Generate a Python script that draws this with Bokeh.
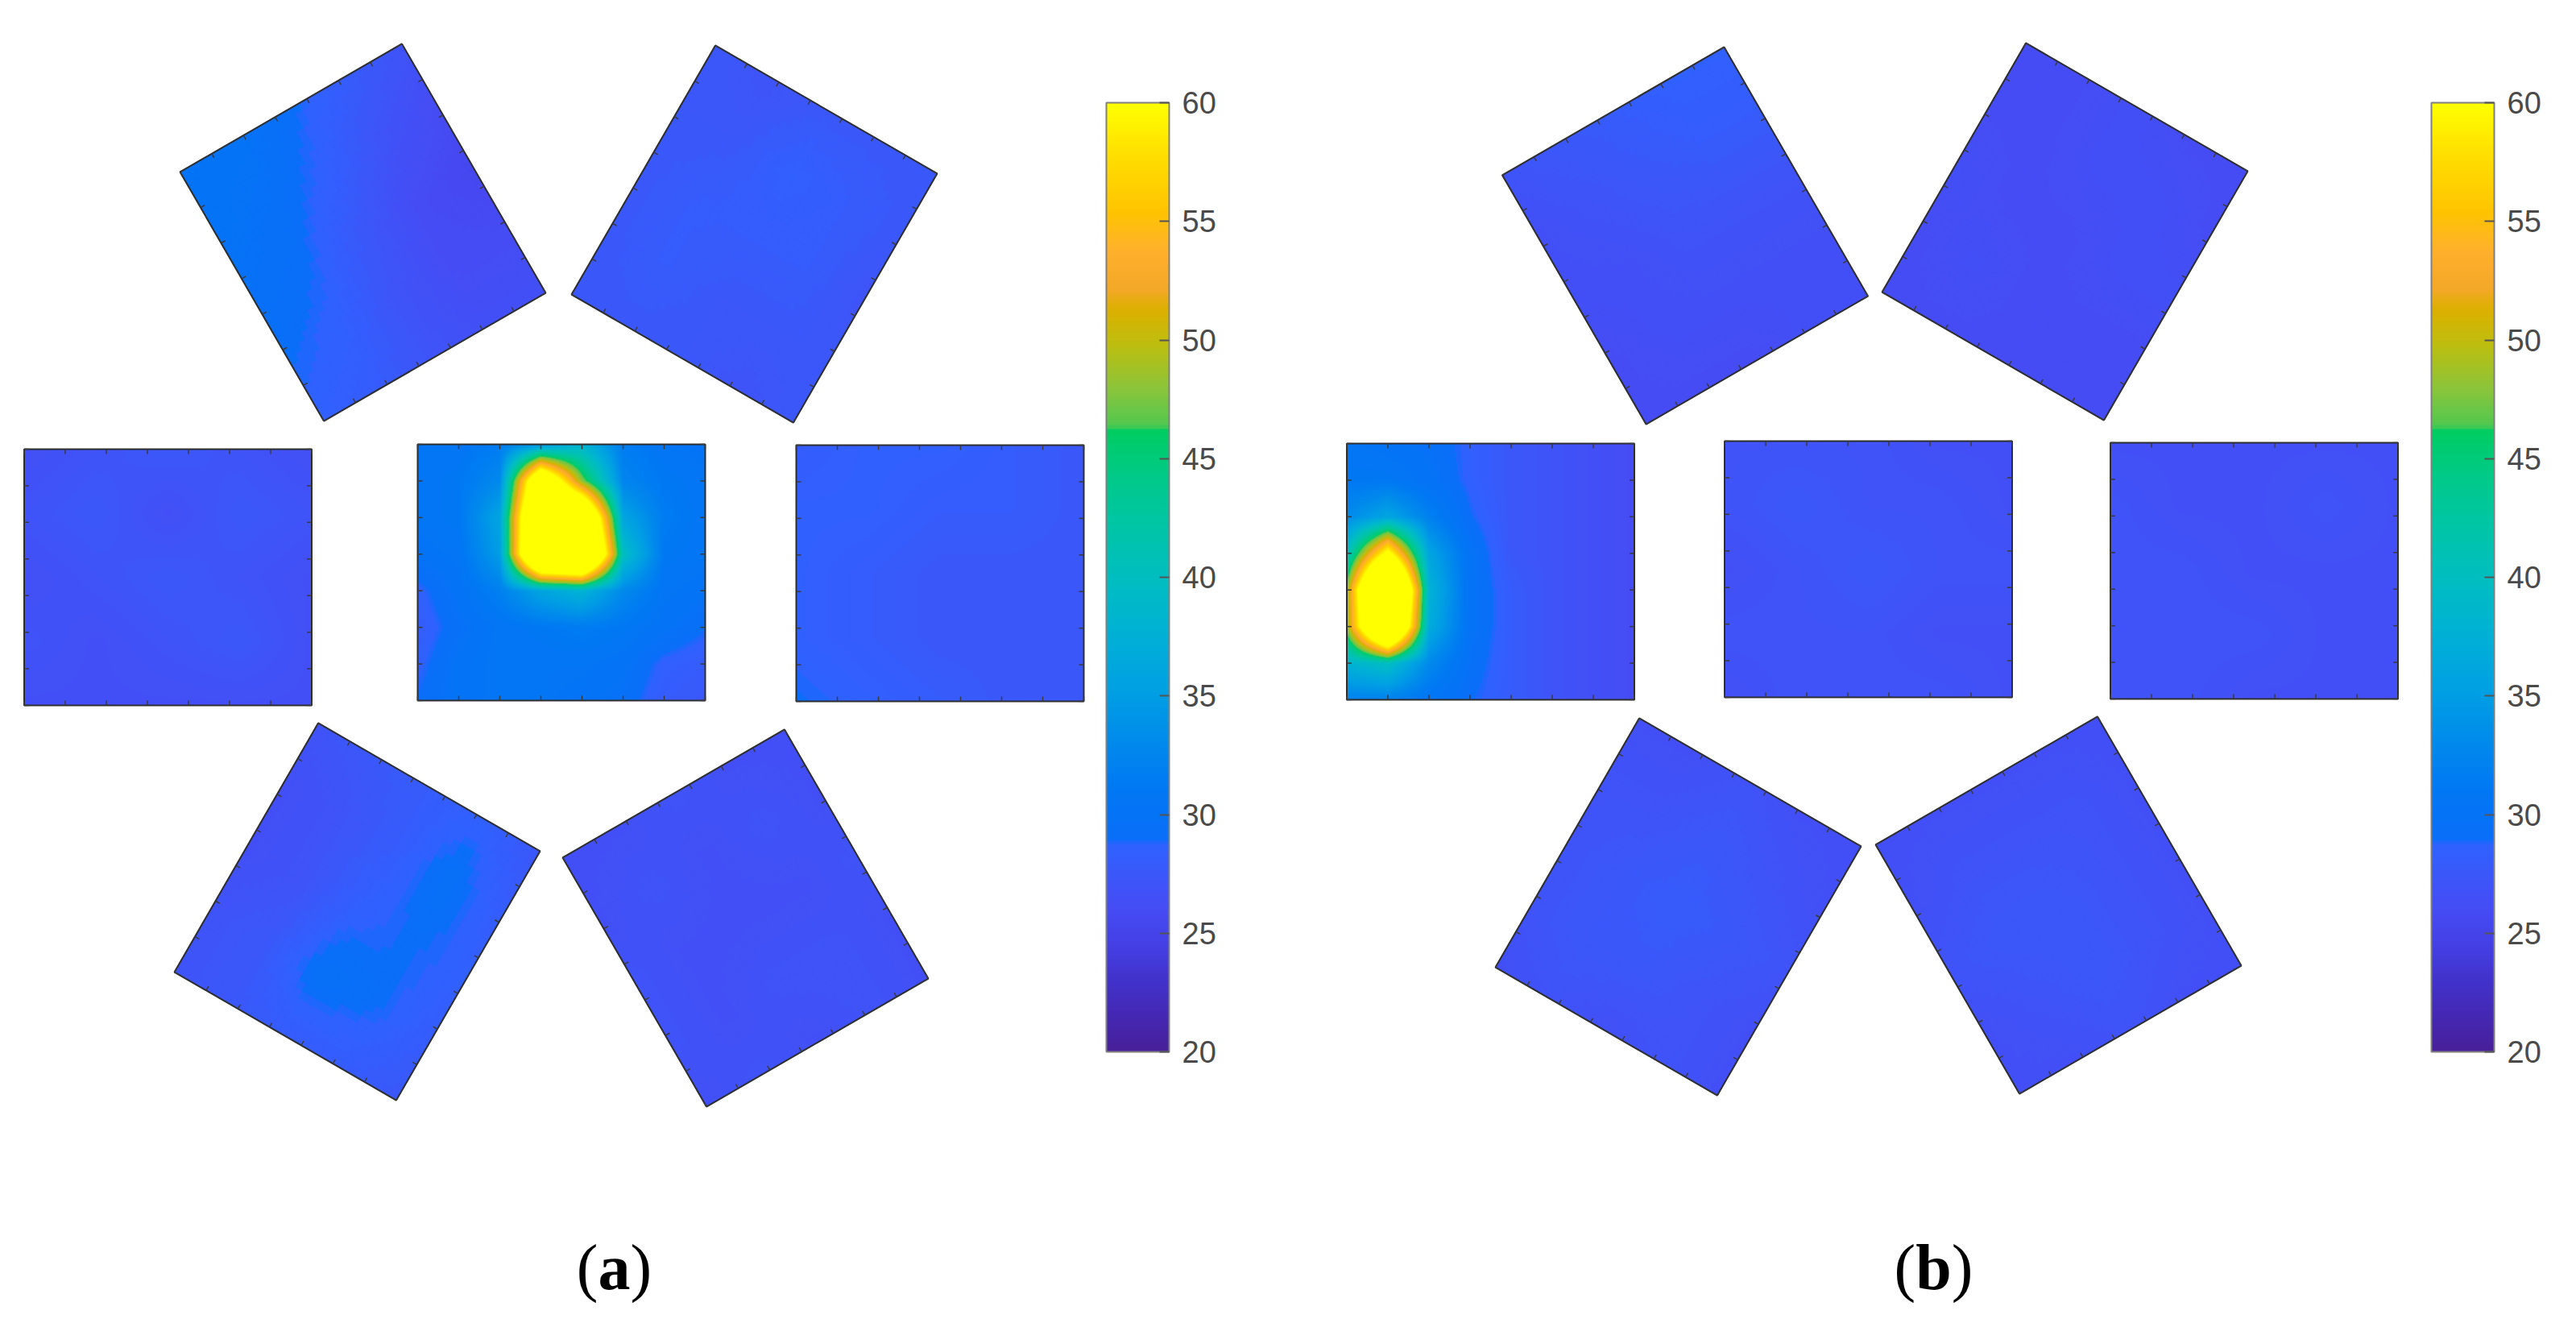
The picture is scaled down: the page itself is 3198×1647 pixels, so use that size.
import numpy as np
from bokeh.plotting import figure
from bokeh.models import Range1d, LinearColorMapper, ColorBar, FixedTicker, ColumnDataSource
from bokeh.core.properties import value
from bokeh.embed import file_html
from bokeh.resources import INLINE

# ---------------- data ----------------
T_LOW, T_HIGH = 20, 60
CB_TICKS = [20, 25, 30, 35, 40, 45, 50, 55, 60]
PANEL_LABELS = ["a", "b"]

# 8x8 sensor grids (rows top -> bottom, columns left -> right), degC
A_CENTER = [
    [30.5, 30.5, 31.5, 34.0, 38.0, 31.5, 30.5, 30.0],
    [30.5, 31.0, 33.0, 72.0, 48.0, 32.5, 31.0, 30.5],
    [30.5, 31.0, 36.0, 82.0, 78.0, 36.0, 31.5, 30.5],
    [30.0, 30.5, 35.0, 85.0, 88.0, 40.0, 31.0, 30.5],
    [28.5, 30.0, 32.0, 36.0, 38.0, 33.0, 30.5, 30.0],
    [28.0, 29.5, 30.5, 31.0, 31.5, 31.0, 30.0, 29.0],
    [28.5, 30.0, 30.5, 30.5, 30.5, 30.0, 28.5, 28.0],
    [29.0, 30.0, 30.5, 30.5, 30.0, 29.5, 28.0, 27.5],
]
B_LEFT = [
    [30.5, 30.0, 29.5, 28.5, 27.5, 27.0, 26.5, 26.0],
    [31.0, 31.0, 30.0, 28.5, 27.5, 27.0, 26.5, 26.0],
    [33.0, 36.0, 32.0, 29.0, 27.5, 27.0, 26.5, 26.0],
    [40.0, 62.0, 36.0, 30.0, 27.5, 27.0, 26.5, 26.0],
    [48.0, 92.0, 38.0, 30.0, 28.0, 27.0, 26.5, 26.0],
    [48.0, 85.0, 37.0, 30.0, 28.0, 27.0, 26.5, 26.0],
    [38.0, 40.0, 33.0, 29.5, 28.0, 27.0, 26.5, 26.0],
    [32.0, 32.0, 30.5, 29.0, 28.0, 27.0, 26.5, 26.0],
]
# coarser readings of the cool panels (local frame of each panel)
A_LEFT = [[26.5, 27.0, 27.5, 27.0, 26.5], [27.0, 27.5, 26.5, 27.5, 27.0], [26.5, 27.0, 27.5, 27.0, 26.5],
          [27.0, 26.5, 27.0, 27.5, 26.5], [26.5, 26.5, 26.5, 26.5, 26.5]]
A_RIGHT = [[28.0, 28.5, 28.5, 28.0, 27.5], [28.5, 28.5, 28.0, 28.0, 27.5], [28.5, 28.0, 27.5, 27.5, 27.5],
           [28.5, 28.0, 27.5, 27.5, 27.5], [29.0, 28.5, 28.0, 27.5, 27.5]]
A_TOPLEFT = [[27.0, 26.0, 25.5, 26.0, 26.5], [28.0, 27.0, 26.0, 26.0, 26.5], [29.0, 28.5, 27.5, 27.0, 27.0],
             [30.0, 29.5, 29.0, 28.5, 28.0], [30.0, 30.0, 29.5, 29.0, 28.5]]
A_TOPRIGHT = [[27.5, 27.5, 27.0, 27.5, 27.5], [27.5, 28.0, 28.0, 27.5, 27.0], [27.5, 28.5, 28.0, 27.5, 27.5],
              [27.0, 27.5, 28.0, 28.0, 27.5], [27.5, 27.5, 27.5, 27.5, 27.5]]
A_BOTLEFT = [[27.0, 27.0, 26.5, 26.5, 27.0], [27.5, 27.5, 27.0, 27.0, 27.5], [28.0, 29.5, 28.5, 28.0, 28.0],
             [28.0, 29.0, 29.0, 29.5, 28.5], [27.5, 28.0, 28.5, 28.0, 27.5]]
A_BOTRIGHT = [[26.5, 27.0, 27.0, 26.5, 26.5], [27.0, 26.5, 26.5, 27.0, 26.5], [26.5, 27.0, 26.5, 26.5, 27.0],
              [27.0, 27.0, 26.5, 27.0, 26.5], [26.5, 26.5, 27.0, 26.5, 26.5]]
B_CENTER = [[27.0, 27.0, 27.0, 26.5, 26.5], [27.0, 27.5, 27.0, 27.0, 26.5], [26.5, 27.0, 27.5, 27.0, 27.0],
            [27.0, 27.0, 27.0, 26.5, 26.5], [26.5, 27.0, 27.0, 27.0, 26.5]]
B_RIGHT = [[26.5, 26.5, 26.5, 26.5, 26.5], [27.0, 26.5, 26.5, 27.0, 26.5], [27.0, 27.0, 26.5, 26.5, 26.5],
           [27.0, 27.0, 27.0, 26.5, 26.5], [27.0, 27.0, 26.5, 26.5, 26.5]]
B_TOPLEFT = [[28.5, 28.0, 27.0, 26.5, 26.5], [28.5, 28.0, 27.0, 26.5, 26.5], [28.0, 27.5, 27.0, 26.5, 26.0],
             [27.5, 27.0, 26.5, 26.5, 26.0], [27.0, 26.5, 26.5, 26.0, 26.0]]
B_TOPRIGHT = [[26.0, 26.0, 26.5, 26.0, 26.0], [26.0, 26.5, 26.5, 26.0, 26.0], [26.5, 26.5, 26.0, 26.0, 26.0],
              [26.0, 26.0, 26.0, 26.5, 26.0], [26.0, 26.0, 26.5, 26.0, 26.0]]
B_BOTLEFT = [[26.5, 27.0, 27.0, 27.0, 26.5], [27.0, 27.5, 27.5, 27.0, 26.5], [26.5, 27.5, 28.0, 27.5, 27.0],
             [27.0, 27.0, 27.5, 27.0, 26.5], [26.5, 26.5, 27.0, 26.5, 26.5]]
B_BOTRIGHT = [[26.5, 26.5, 27.0, 26.5, 26.5], [26.5, 27.0, 27.5, 27.0, 26.5], [27.0, 27.5, 27.5, 27.0, 26.5],
              [26.5, 27.0, 27.0, 27.0, 26.5], [26.5, 26.5, 26.5, 26.5, 26.5]]

# ---------------- colour map (parula-like, as printed) ----------------
ANCHORS = [
    (20.0, "#47209a"), (21.5, "#4428b4"), (23.0, "#4232cc"), (24.5, "#4440e6"),
    (26.0, "#464cf4"), (27.5, "#3a58fa"), (28.7, "#2e62ff"), (28.9, "#0a6ef8"),
    (31.0, "#0078f4"), (33.0, "#008aec"), (35.0, "#009ee4"), (37.5, "#00b0d6"),
    (40.0, "#00bec0"), (42.5, "#00c6a2"), (44.5, "#00ca84"), (46.2, "#00cc62"),
    (46.4, "#50c850"), (48.0, "#8cc43a"), (49.8, "#bcbe10"), (51.3, "#dcb000"),
    (52.2, "#f4a828"), (53.8, "#ffb02c"), (55.5, "#ffc400"), (58.0, "#ffe000"),
    (60.0, "#ffff00"),
]


def build_palette(n=256):
    av = [a[0] for a in ANCHORS]
    rgb = [tuple(int(a[1][k:k + 2], 16) for k in (1, 3, 5)) for a in ANCHORS]
    vs = np.linspace(T_LOW, T_HIGH, n)
    ch = [np.interp(vs, av, [c[i] for c in rgb]) for i in range(3)]
    return ["#%02x%02x%02x" % (int(round(r)), int(round(g)), int(round(b))) for r, g, b in zip(*ch)]


PAL = build_palette()
mapper = LinearColorMapper(palette=PAL, low=T_LOW, high=T_HIGH, high_color=PAL[-1], low_color=PAL[0])

# ---------------- layout (picture pixel coordinates, y down) ----------------
CAN_W, CAN_H = 3182, 1631
PW, PH = 357, 318  # panel size
PANELS = [
    # grid, centre x, centre y, rotation (deg, clockwise on screen)
    (A_CENTER, 696.5, 710, 0), (A_LEFT, 208, 716, 0), (A_RIGHT, 1166.5, 711, 0),
    (A_TOPLEFT, 450, 288, 60), (A_TOPRIGHT, 936, 290, 120),
    (A_BOTLEFT, 443, 1131, 300), (A_BOTRIGHT, 925, 1139, 240),
    (B_LEFT, 1850, 709, 0), (B_CENTER, 2319, 706, 0), (B_RIGHT, 2798, 708, 0),
    (B_TOPLEFT, 2091.5, 292, 60), (B_TOPRIGHT, 2563, 287, 120),
    (B_BOTLEFT, 2083, 1125, 300), (B_BOTRIGHT, 2555, 1123, 240),
]
LABEL_POS = [(762, 1572), (2400, 1572)]
CBAR_LEFT = [1373, 3018]
CBAR_TOP, CBAR_BOTTOM, CBAR_W = 127, 1305, 78


def dy(y):
    return CAN_H - y


def field(grid, s, t):
    g = np.asarray(grid, float)
    ny, nx = g.shape
    x = np.clip(s * (nx - 1), 0, nx - 1 - 1e-9)
    y = np.clip(t * (ny - 1), 0, ny - 1 - 1e-9)
    i0 = np.floor(x).astype(int)
    j0 = np.floor(y).astype(int)
    fx, fy = x - i0, y - j0
    return (g[j0, i0] * (1 - fx) * (1 - fy) + g[j0, i0 + 1] * fx * (1 - fy)
            + g[j0 + 1, i0] * (1 - fx) * fy + g[j0 + 1, i0 + 1] * fx * fy)


def to_page(cx, cy, th, u, v):
    c, s = np.cos(np.radians(th)), np.sin(np.radians(th))
    return cx + u * c - v * s, cy + u * s + v * c


p = figure(width=CAN_W, height=CAN_H, x_range=Range1d(0, CAN_W), y_range=Range1d(0, CAN_H),
           output_backend="svg", toolbar_location=None, x_axis_location=None, y_axis_location=None,
           min_border=0, outline_line_color=None, background_fill_color="white", border_fill_color="white")
p.xgrid.visible = False
p.ygrid.visible = False

px_, py_, pt_ = [], [], []
outl_x, outl_y = [], []
tk = dict(x0=[], y0=[], x1=[], y1=[])
NU, NV = 36, 32
for grid, cx, cy, th in PANELS:
    if th == 0:
        s = (np.arange(PW) + 0.5) / PW
        t = (np.arange(PH) + 0.5) / PH
        S, T = np.meshgrid(s, t)
        arr = field(grid, S, T)
        p.image(image=[np.flipud(arr)], x=cx - PW / 2, y=dy(cy + PH / 2), dw=PW, dh=PH, color_mapper=mapper)
    else:
        ue = np.linspace(-PW / 2, PW / 2, NU + 1)
        ve = np.linspace(-PH / 2, PH / 2, NV + 1)
        for j in range(NV):
            for i in range(NU):
                cu = [ue[i], ue[i + 1], ue[i + 1], ue[i]]
                cv = [ve[j], ve[j], ve[j + 1], ve[j + 1]]
                xs, ys = to_page(cx, cy, th, np.array(cu), np.array(cv))
                px_.append(list(xs))
                py_.append(list(dy(ys)))
                pt_.append(float(field(grid, np.array((i + 0.5) / NU), np.array((j + 0.5) / NV))))
    cu = np.array([-PW / 2, PW / 2, PW / 2, -PW / 2])
    cv = np.array([-PH / 2, -PH / 2, PH / 2, PH / 2])
    xs, ys = to_page(cx, cy, th, cu, cv)
    outl_x.append(list(xs))
    outl_y.append(list(dy(ys)))
    L = 6
    for k in range(8):
        uu = -PW / 2 + k * PW / 7
        vv = -PH / 2 + k * PH / 7
        for (u0, v0, u1, v1) in [(uu, -PH / 2, uu, -PH / 2 + L), (uu, PH / 2, uu, PH / 2 - L),
                                 (-PW / 2, vv, -PW / 2 + L, vv), (PW / 2, vv, PW / 2 - L, vv)]:
            a0, b0 = to_page(cx, cy, th, u0, v0)
            a1, b1 = to_page(cx, cy, th, u1, v1)
            tk["x0"].append(a0); tk["y0"].append(dy(b0)); tk["x1"].append(a1); tk["y1"].append(dy(b1))

src = ColumnDataSource(dict(xs=px_, ys=py_, t=pt_))
p.patches("xs", "ys", source=src, fill_color={"field": "t", "transform": mapper},
          line_color={"field": "t", "transform": mapper}, line_width=1.2)
p.patches(outl_x, outl_y, fill_alpha=0, line_color="#2e2e2e", line_width=2)
p.segment(source=ColumnDataSource(tk), x0="x0", y0="y0", x1="x1", y1="y1", line_color="#3a3a3a", line_width=1.5)

# colour bars
for left in CBAR_LEFT:
    cb = ColorBar(color_mapper=mapper, location=(left, dy(CBAR_BOTTOM)), width=CBAR_W,
                  height=CBAR_BOTTOM - CBAR_TOP, padding=0, margin=0,
                  ticker=FixedTicker(ticks=CB_TICKS), major_label_text_font="Liberation Sans",
                  major_label_text_font_size="38px", major_label_text_color="#4a4a4a",
                  label_standoff=16, major_tick_in=12, major_tick_out=0, major_tick_line_color="#555555",
                  major_tick_line_width=2, minor_tick_line_color=None, bar_line_color="#808080",
                  bar_line_width=2, border_line_color=None, background_fill_alpha=0)
    p.add_layout(cb)

# panel labels (a) / (b)
FS = 80
lx = [pos[0] for pos in LABEL_POS]
ly = [dy(pos[1]) for pos in LABEL_POS]
adv = [0.5 * FS, 0.556 * FS]
p.text(x=lx, y=ly, text=PANEL_LABELS, text_font=value("Liberation Serif"), text_font_style="bold",
       text_font_size=f"{FS}px", text_align="center", text_baseline="middle", text_color="black")
p.text(x=[x - a / 2 for x, a in zip(lx, adv)], y=ly, text=["(", "("], text_font=value("Liberation Serif"),
       text_font_style="normal", text_font_size=f"{FS}px", text_align="right", text_baseline="middle",
       text_color="black")
p.text(x=[x + a / 2 for x, a in zip(lx, adv)], y=ly, text=[")", ")"], text_font=value("Liberation Serif"),
       text_font_style="normal", text_font_size=f"{FS}px", text_align="left", text_baseline="middle",
       text_color="black")

open("out.html", "w").write(file_html(p, INLINE))
